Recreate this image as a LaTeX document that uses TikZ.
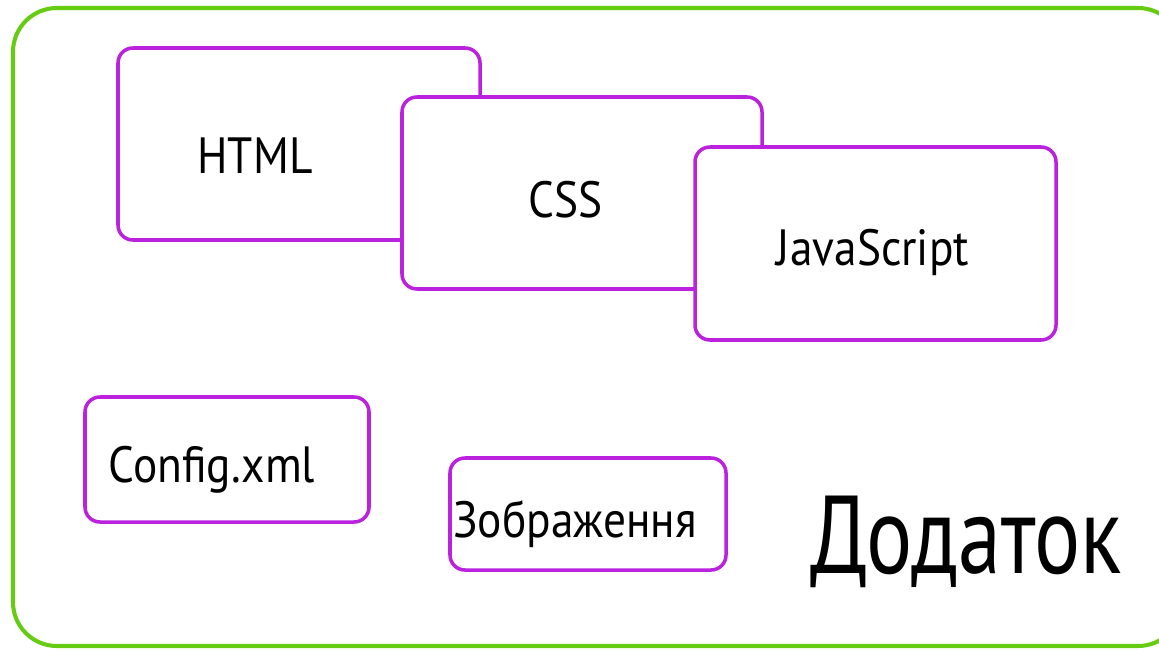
\documentclass[tikz,border=0pt]{standalone}
\usepackage{fontspec}
\setmainfont{PT Sans}
\newfontfamily\narrowfont[FakeStretch=0.89]{PT Sans}
\newfontfamily\titlefont[FakeStretch=0.78]{PT Sans}
\definecolor{framegreen}{HTML}{66CC11}
\definecolor{boxline}{HTML}{BB22DD}
\tikzset{
  box/.style={draw=boxline,line width=2pt,fill=white,rounded corners=8.5pt},
  txt/.style={inner sep=0pt,anchor=base,font=\narrowfont\fontsize{29}{32}\selectfont},
  bigtxt/.style={inner sep=0pt,anchor=base,font=\titlefont\fontsize{63}{70}\selectfont}
}

\begin{document}
\begin{tikzpicture}[x=0.02cm,y=-0.02cm]
  % Boundary
  \path[use as bounding box] (0,0) rectangle (1159,649);
  \clip (0,0) rectangle (1159,649);
  % Frame
  \draw[draw=framegreen,line width=2.3pt,rounded corners=25pt] (13,8) rectangle (1182,646);
  % Files, back to front
  \draw[box] (118,48) rectangle (480,240);
  \node[txt] (html) at (255,173) {HTML};
  \draw[box] (402,97) rectangle (762,289);
  \node[txt] (css) at (566,217) {CSS};
  \draw[box] (695,147) rectangle (1056,340);
  \node[txt] (js) at (873,265) {JavaScript};
  % Other parts
  \draw[box] (85,397) rectangle (369,522);
  \node[txt] (config) at (212,482) {Config.xml};
  \draw[box] (450,458) rectangle (726,570);
  \node[txt] (images) at (575,537) {Зображення};
  % Title
  \node[bigtxt] (app) at (966,573) {Додаток};
\end{tikzpicture}
\end{document}
